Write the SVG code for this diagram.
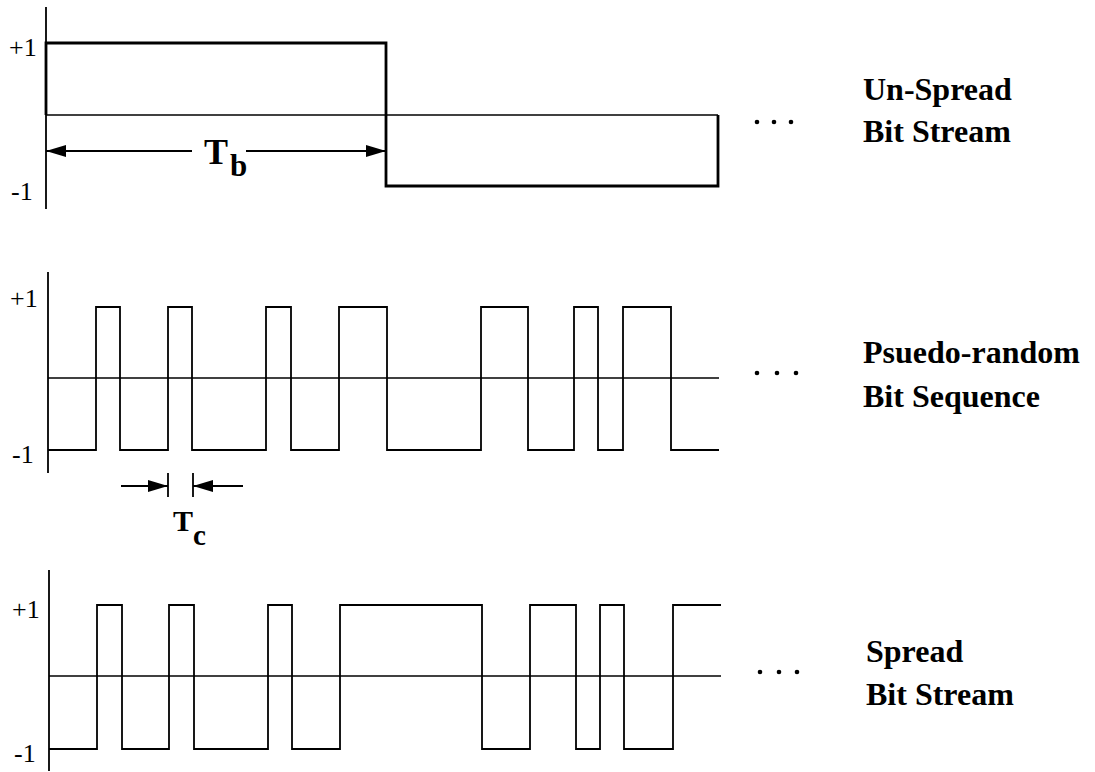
<svg xmlns="http://www.w3.org/2000/svg" width="1095" height="772" viewBox="0 0 1095 772">
<style>
.axis{stroke:#000;stroke-width:1.8;fill:none}
.zero{stroke:#000;stroke-width:1.6;fill:none}
.wave{stroke:#000;stroke-width:1.8;fill:none;stroke-linejoin:miter}
.thick{stroke:#000;stroke-width:2.8;fill:none;stroke-linejoin:miter}
.lvl{font-family:"Liberation Serif","Times New Roman",serif;font-size:26px;fill:#000}
.lab{font-family:"Liberation Serif","Times New Roman",serif;font-size:32px;font-weight:bold;fill:#000}
.sym{font-family:"Liberation Serif","Times New Roman",serif;font-weight:bold;fill:#000}
.dim{stroke:#000;stroke-width:1.8;fill:none}
.dot{fill:#000}
</style>
<defs>
<marker id="ah" viewBox="0 0 20 12" refX="20" refY="6" markerWidth="20" markerHeight="12" markerUnits="userSpaceOnUse" orient="auto">
<path d="M0,0 L20,6 L0,12 Z" fill="#000"/>
</marker>
</defs>
<rect width="1095" height="772" fill="#fff"/>

<g id="unspread">
<line class="axis" x1="46" y1="7" x2="46" y2="209"/>
<line class="zero" x1="46" y1="115" x2="718" y2="115"/>
<path class="thick" d="M46,115 V43 H386 V186 H718 V115"/>
<text class="lvl" x="9" y="56">+1</text>
<text class="lvl" x="11" y="200">-1</text>
<circle class="dot" cx="757" cy="122" r="2.3"/>
<circle class="dot" cx="774" cy="122" r="2.3"/>
<circle class="dot" cx="791" cy="122" r="2.3"/>
<text class="lab" x="863" y="100">Un-Spread</text>
<text class="lab" x="863" y="142">Bit Stream</text>
</g>

<g id="pn">
<line class="axis" x1="48" y1="272" x2="48" y2="473"/>
<line class="zero" x1="48" y1="378" x2="719" y2="378"/>
<path class="wave" d="M48,450 H96 V307 H120 V450 H168 V307 H192 V450 H266 V307 H291 V450 H339 V307 H387 V450 H481 V307 H528 V450 H574 V307 H598 V450 H623 V307 H671 V450 H719"/>
<text class="lvl" x="10" y="307">+1</text>
<text class="lvl" x="12" y="463">-1</text>
<circle class="dot" cx="757" cy="373" r="2.3"/>
<circle class="dot" cx="777" cy="373" r="2.3"/>
<circle class="dot" cx="796" cy="373" r="2.3"/>
<text class="lab" x="863" y="363">Psuedo-random</text>
<text class="lab" x="863" y="407">Bit Sequence</text>
</g>

<g id="spread">
<line class="axis" x1="49" y1="570" x2="49" y2="771"/>
<line class="zero" x1="49" y1="676" x2="721" y2="676"/>
<path class="wave" d="M49,749 H97 V605 H122 V749 H169 V605 H194 V749 H268 V605 H292 V749 H340 V605 H482 V749 H530 V605 H576 V749 H600 V605 H624 V749 H673 V605 H721"/>
<text class="lvl" x="12" y="618">+1</text>
<text class="lvl" x="14" y="762">-1</text>
<circle class="dot" cx="760" cy="672" r="2.3"/>
<circle class="dot" cx="779" cy="672" r="2.3"/>
<circle class="dot" cx="797" cy="672" r="2.3"/>
<text class="lab" x="866" y="662">Spread</text>
<text class="lab" x="866" y="705">Bit Stream</text>
</g>

<g id="connectors">
<line class="dim" x1="192" y1="151" x2="46" y2="151" marker-end="url(#ah)"/>
<line class="dim" x1="246" y1="151" x2="386" y2="151" marker-end="url(#ah)"/>
<line class="dim" x1="121" y1="486" x2="168" y2="486" marker-end="url(#ah)"/>
<line class="dim" x1="243" y1="486" x2="193" y2="486" marker-end="url(#ah)"/>
<line class="axis" x1="168" y1="473" x2="168" y2="497"/>
<line class="axis" x1="193" y1="473" x2="193" y2="497"/>
</g>

<g id="tb">
<text class="sym" x="204" y="164" font-size="36">T</text>
<text class="sym" x="230" y="176" font-size="31">b</text>
</g>
<g id="tc">
<text class="sym" x="173" y="531" font-size="30">T</text>
<text class="sym" x="193" y="545" font-size="29">c</text>
</g>
</svg>
